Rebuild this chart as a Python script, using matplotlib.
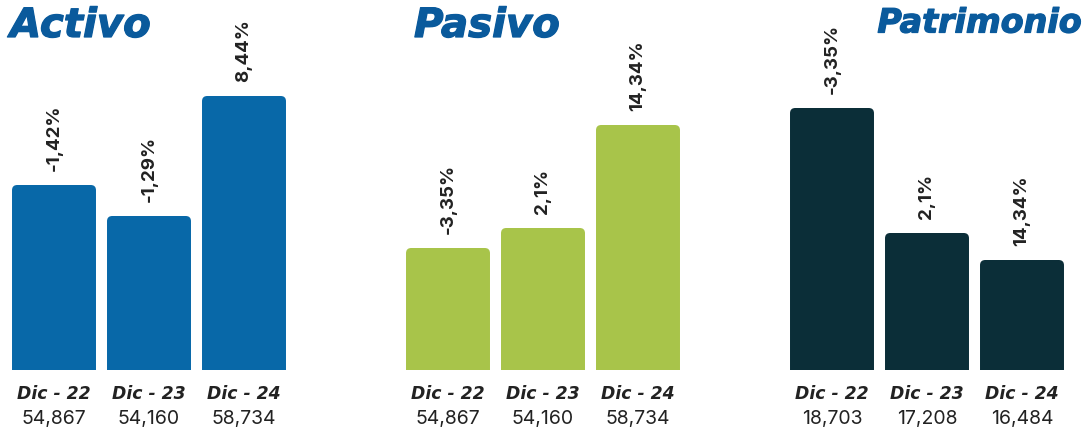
import matplotlib.pyplot as plt
import matplotlib.patheffects as pe
from matplotlib.patches import FancyBboxPatch

# data
periods = ['Dic - 22', 'Dic - 23', 'Dic - 24']
activo_vals = ['54,867', '54,160', '58,734']
pasivo_vals = ['54,867', '54,160', '58,734']
patrimonio_vals = ['18,703', '17,208', '16,484']
activo_pct = ['-1,42%', '-1,29%', '8,44%']
pasivo_pct = ['-3,35%', '2,1%', '14,34%']
patrimonio_pct = ['-3,35%', '2,1%', '14,34%']
# bar heights as drawn (visual scale)
activo_h = [185, 154, 274]
pasivo_h = [122, 142, 245]
patrimonio_h = [262, 137, 110]

W, H = 1085, 430
fig = plt.figure(figsize=(W / 100, H / 100), dpi=100)

panels = [
    ('Activo', activo_h, activo_pct, activo_vals, '#0868A8', 6.5),
    ('Pasivo', pasivo_h, pasivo_pct, pasivo_vals, '#A8C44A', 400.5),
    ('Patrimonio', patrimonio_h, patrimonio_pct, patrimonio_vals, '#0B2E38', 784.5),
]

width = 0.884
for title, heights, pcts, vals, color, left in panels:
    ax = fig.add_axes([left / W, 60 / H, 285 / W, 370 / H])
    ax.set_xlim(-0.5, 2.5)
    ax.set_ylim(0, 370)
    ax.axis('off')
    bars = ax.bar(range(3), heights, width=width, color=color)
    for b in bars:
        b.set_visible(False)
        r = FancyBboxPatch((b.get_x(), -8), b.get_width(), b.get_height() + 8,
                           boxstyle='round,pad=0,rounding_size=0.055',
                           mutation_aspect=95, facecolor=color, edgecolor='none')
        ax.add_patch(r)
    for i, (h, p) in enumerate(zip(heights, pcts)):
        ax.annotate(p, (i, h), xytext=(0, 10), textcoords='offset points',
                    rotation=90, ha='center', va='bottom', fontsize=13.5,
                    fontweight='bold', color='#222222', family='Inter',
                    annotation_clip=False)
    for i, (per, v) in enumerate(zip(periods, vals)):
        ax.annotate(per, (i, 0), xytext=(0, -17), textcoords='offset points',
                    ha='center', va='center', fontsize=12.4, fontweight='bold',
                    style='italic', color='#222222', family='DejaVu Sans',
                    annotation_clip=False)
        ax.annotate(v, (i, 0), xytext=(0, -35), textcoords='offset points',
                    ha='center', va='center', fontsize=14, color='#222222',
                    family='Inter', annotation_clip=False)

title_color = '#0A5A9C'
heavy = [pe.withStroke(linewidth=0.9, foreground=title_color)]
fig.text(10 / W, 1 - 26 / H, 'Activo', fontsize=29, fontweight='bold',
         style='italic', color=title_color, family='DejaVu Sans', va='center',
         ha='left', path_effects=heavy)
fig.text(414 / W, 1 - 26 / H, 'Pasivo', fontsize=29, fontweight='bold',
         style='italic', color=title_color, family='DejaVu Sans', va='center',
         ha='left', path_effects=heavy)
fig.text(1082 / W, 1 - 23 / H, 'Patrimonio', fontsize=24, fontweight='bold',
         style='italic', color=title_color, family='DejaVu Sans', va='center',
         ha='right', path_effects=heavy)

fig.savefig('out.png', dpi=100)
